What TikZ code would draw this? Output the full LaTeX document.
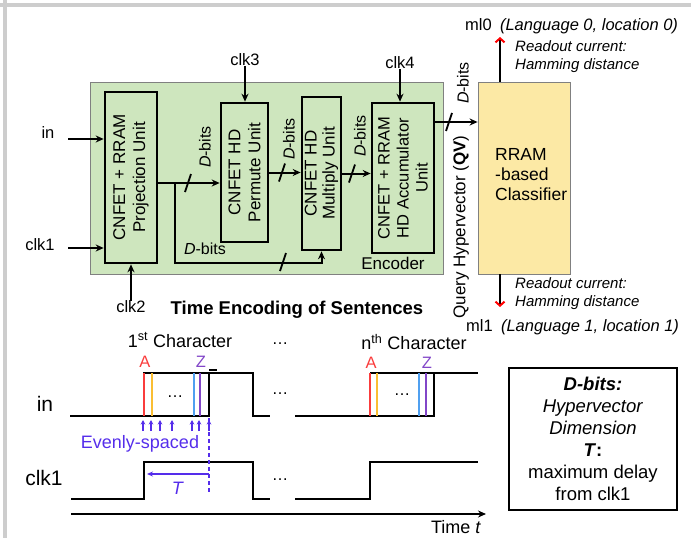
\documentclass[tikz,border=0pt]{standalone}
\usepackage{fontspec}
\setmainfont{Liberation Sans}
\usetikzlibrary{arrows.meta,calc}
\definecolor{encgreen}{RGB}{206,230,190}
\definecolor{clsyellow}{RGB}{252,233,165}
\definecolor{evblue}{RGB}{85,45,235}
\definecolor{wred}{RGB}{250,60,60}
\definecolor{worange}{RGB}{250,190,50}
\definecolor{wblue}{RGB}{80,160,240}
\definecolor{wpurple}{RGB}{130,70,200}
\definecolor{framegray}{RGB}{205,205,205}
\begin{document}
\begin{tikzpicture}[x=1pt,y=-1pt,
  lbl/.style={font=\fontsize{16.5}{19}\selectfont, inner sep=0pt},
  dlbl/.style={font=\fontsize{16}{18}\selectfont, inner sep=0pt},
  unitbox/.style={draw, line width=2.6pt, inner sep=0pt},
  unittext/.style={rotate=90, align=center, font=\fontsize{17}{20}\selectfont, inner sep=0pt},
  arr/.style={line width=2pt, -{Stealth[length=8pt,width=7pt]}},
  bus/.style={line width=2pt},
  redarr/.style={line width=2pt, -{Straight Barb[color=red,length=4pt,width=9pt,line width=2pt]}},
  wave/.style={line width=1.6pt, line join=miter},
  cline/.style={line width=1.6pt},
  bluearr/.style={evblue, line width=1.2pt, -{Stealth[length=4.5pt,width=4.5pt]}},
  big/.style={font=\fontsize{21}{24}\selectfont, inner sep=0pt},
  mid/.style={font=\fontsize{18}{21}\selectfont, inner sep=0pt},
  busslash/.pic={\draw[line width=1.8pt] (-3,9) -- (3,-9);}
]
\path[use as bounding box] (0,0) rectangle (691,538);
% frame
\draw[framegray, line width=4pt] (0,5) -- (691,5);
\draw[framegray, line width=4pt] (5,0) -- (5,538);

% encoder and classifier
\node[draw=gray, fill=encgreen, line width=0.8pt, minimum width=353, minimum height=192, inner sep=0pt] (enc) at (266.5,178) {};
\node[draw=gray, fill=clsyellow, line width=0.8pt, minimum width=92, minimum height=192, inner sep=0pt] (cls) at (524,178) {};
\node[lbl, align=left, font=\fontsize{17.5}{20}\selectfont, anchor=west] (clst) at (495,175) {RRAM\\-based\\Classifier};

% units
\node[unitbox, minimum width=52, minimum height=171] (proj) at (131,177.5) {};
\node[unittext] (projt) at (proj) {CNFET + RRAM\\Projection Unit};
\node[unitbox, minimum width=47, minimum height=139] (perm) at (244.5,172.5) {};
\node[unittext] (permt) at (perm) {CNFET HD\\Permute Unit};
\node[unitbox, minimum width=39, minimum height=153] (mult) at (321.5,173.5) {};
\node[unittext, font=\fontsize{17}{18}\selectfont] (multt) at (mult) {CNFET HD\\Multiply Unit};
\node[unitbox, minimum width=62, minimum height=150] (acc) at (403,178) {};
\node[unittext, font=\fontsize{16.5}{19}\selectfont] (acct) at (acc) {CNFET + RRAM\\HD Accumulator\\Unit};
\node[lbl, font=\fontsize{17}{19}\selectfont] (encl) at (393,263) {Encoder};

% inputs
\node[lbl] (inl) at (48,133) {in};
\coordinate (inS) at (68,139);
\draw[arr] (inS) -- (inS -| proj.west);
\node[lbl] (clk1l) at (40,245) {clk1};
\coordinate (clkS) at (68,248);
\draw[arr] (clkS) -- (clkS -| proj.west);
\node[lbl] (clk2l) at (131,307) {clk2};
\draw[arr] (clk2l.north) -- (clk2l.north |- proj.south);
\node[lbl] (clk3l) at (245,60) {clk3};
\draw[arr] (clk3l.south) -- (clk3l.south |- perm.north);
\node[lbl] (clk4l) at (400,63) {clk4};
\draw[arr] (clk4l.south) -- (clk4l.south |- acc.north);

% buses
\coordinate (bus1) at (175,183);
\draw[bus] (bus1 -| proj.east) -- (bus1);
\draw[arr] (bus1) -- (bus1 -| perm.west);
\draw[arr] (bus1) |- ($(mult.south)+(0,12)$) -- (mult.south);
\draw[arr] (perm.east) -- (perm.east -| mult.west);
\draw[arr] (mult.east) -- (mult.east -| acc.west);
\coordinate (qy) at (450,122);
\draw[arr] (qy -| acc.east) -- (qy -| cls.west);
\pic at (188,183) {busslash};
\pic at (282,172.5) {busslash};
\pic at (283,262) {busslash};
\pic at (352,173.5) {busslash};
\pic at (449,122) {busslash};

\node[dlbl, rotate=90] (d1) at (205,147) {\textit{D}-bits};
\node[dlbl, rotate=90] (d2) at (289,139) {\textit{D}-bits};
\node[dlbl, rotate=90] (d3) at (360,136) {\textit{D}-bits};
\node[dlbl, rotate=90] (d4) at (463,83) {\textit{D}-bits};
\node[dlbl] (d5) at (205,249) {\textit{D}-bits};
\node[lbl, rotate=90, font=\fontsize{17}{19}\selectfont] (qv) at (461,227) {Query Hypervector (\textbf{QV})};

% outputs
\coordinate (ml0t) at (500,37);
\draw[redarr] (ml0t |- cls.north) -- (ml0t);
\coordinate (ml1t) at (500,307);
\draw[redarr] (ml1t |- cls.south) -- (ml1t);
\node[lbl, anchor=west, font=\fontsize{16.5}{19}\selectfont] (ml0l) at (465,26) {ml0\enspace\textit{(Language 0, location 0)}};
\node[lbl, anchor=west, align=left, font=\fontsize{15}{18}\selectfont\itshape] (ro0) at (515,57) {Readout current:\\Hamming distance};
\node[lbl, anchor=west, align=left, font=\fontsize{15}{18}\selectfont\itshape] (ro1) at (515,294) {Readout current:\\Hamming distance};
\node[lbl, anchor=west, font=\fontsize{16.5}{19}\selectfont] (ml1l) at (466,327) {ml1\enspace\textit{(Language 1, location 1)}};

\node[lbl, font=\fontsize{18.5}{22}\bfseries] (title) at (297,310) {Time Encoding of Sentences};

% timing diagram
\node[big] (inw) at (45,404) {in};
\node[big] (clkw) at (44,478) {clk1};
\node[mid] (c1) at (180,340) {1\textsuperscript{st} Character};
\node[mid] (cn) at (414,342) {n\textsuperscript{th} Character};
\node[lbl] (dt) at (280,344) {\dots};
\node[lbl] (di) at (280,394) {\dots};
\node[lbl] (dc) at (280,480) {\dots};
\node[lbl] (da) at (175,397) {\dots};
\node[lbl] (db) at (402,395) {\dots};

\draw[wave] (70,416) -- (209,416) -- (209,373);
\draw[wave] (143,373) -- (253,373) -- (253,416) -- (270,416);
\draw[wave] (209,370) -- (217,370);
\draw[wave] (295,416) -- (434,416) -- (434,373);
\draw[wave] (370,373) -- (478,373);
\foreach \xa/\xb/\xc/\xd in {144/152/194/200, 370/377/419/426} {
  \draw[cline, wred] (\xa,373) -- (\xa,416);
  \draw[cline, worange] (\xb,373) -- (\xb,416);
  \draw[cline, wblue] (\xc,373) -- (\xc,416);
  \draw[cline, wpurple] (\xd,373) -- (\xd,416);
}
\node[lbl, text=wred] (a1) at (145,362) {A};
\node[lbl, text=wpurple] (z1) at (201,362) {Z};
\node[lbl, text=wred] (a2) at (371,363) {A};
\node[lbl, text=wpurple] (z2) at (427,363) {Z};

\draw[wave] (71,499) -- (144,499) -- (144,462) -- (253,462) -- (253,499) -- (270,499);
\draw[wave] (295,499) -- (370,499) -- (370,462) -- (478,462);

\foreach \x in {143,151,160,172,192,199,209} \draw[bluearr] (\x,431) -- (\x,420);
\draw[evblue, line width=1.5pt, dash pattern=on 4pt off 3pt] (209,418) -- (209,494);
\draw[evblue, line width=1.3pt, -{Stealth[length=6pt,width=5pt]}] (209,474) -- (147,474);
\node[mid, text=evblue] (ev) at (140,444) {Evenly-spaced};
\node[mid, text=evblue] (tl) at (178,488) {\textit{T}};

\draw[line width=1.6pt, -{Stealth[length=8pt,width=7pt]}] (71,514) -- (486,514);
\node[mid] (time) at (456,527) {Time \textit{t}};

\node[draw, line width=2pt, minimum width=168, minimum height=142, inner sep=0pt] (leg) at (593,439) {};
\node[mid, align=center, font=\fontsize{18.5}{22}\selectfont] (legt) at (leg) {\textbf{\textit{D-bits:}}\\\textit{Hypervector}\\\textit{Dimension}\\\textbf{\textit{T}:}\\maximum delay\\from clk1};
\end{tikzpicture}
\end{document}
